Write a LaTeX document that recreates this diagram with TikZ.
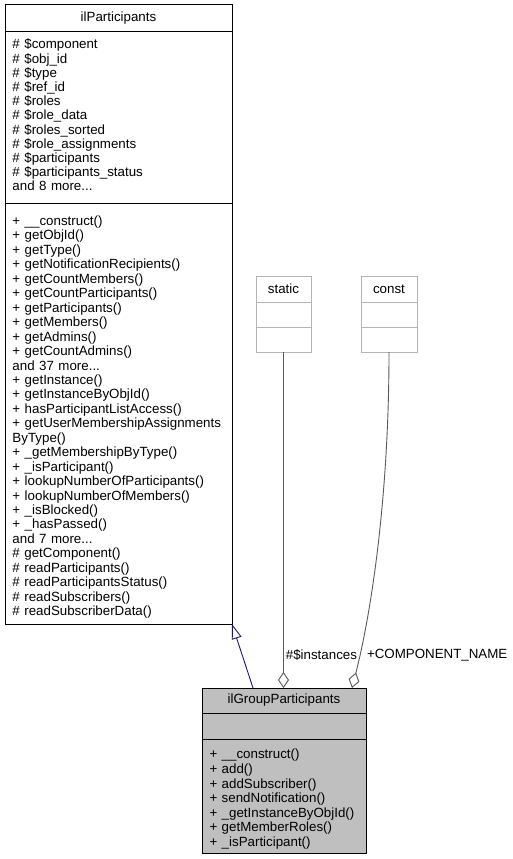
\documentclass[tikz,border=0pt]{standalone}
\usepackage{fontspec}
\setmainfont{Liberation Sans}
\usetikzlibrary{arrows.meta, positioning, calc}
\definecolor{edgegrey}{HTML}{5A5A5A}
\definecolor{inheritblue}{HTML}{191970}
\definecolor{classgrey}{HTML}{BFBFBF}
\definecolor{framegrey}{HTML}{B4B4B4}

\begin{document}
\begin{tikzpicture}[
  x=1pt, y=-1pt,
  every node/.style={font=\fontsize{13.33}{14.2}\selectfont, outer sep=0pt},
  classbox/.style={draw, line width=1pt, inner xsep=7.5pt, inner ysep=0pt, align=left},
  emptybox/.style={draw=framegrey, line width=1pt, minimum width=55pt, inner sep=0pt},
  inherit/.style={-{Triangle[open, length=15pt, width=10pt, fill=white]}, line width=0.9pt, color=inheritblue},
  aggr/.style={-{Diamond[open, length=16pt, width=11pt, fill=white]}, line width=0.9pt, color=edgegrey},
  lbl/.style={inner sep=0pt}
]
  \useasboundingbox (0,0) rectangle (513,859);

  % Base class
  \node[classbox, text width=212pt, align=center, minimum height=27pt] (ilp) at (118.5,18.5) {ilParticipants};
  \node[classbox, text width=212pt, minimum height=171pt, below=0pt of ilp] (ilpattr) {%
    \# \$component\\
    \# \$obj\_id\\
    \# \$type\\
    \# \$ref\_id\\
    \# \$roles\\
    \# \$role\_data\\
    \# \$roles\_sorted\\
    \# \$role\_assignments\\
    \# \$participants\\
    \# \$participants\_status\\
    and 8 more...\rule[-5pt]{0pt}{0pt}};
  \node[classbox, text width=212pt, minimum height=421pt, below=0pt of ilpattr,
        font=\fontsize{13.33}{14.45}\selectfont] (ilpmeth) {%
    \rule{0pt}{17pt}+ \_\_construct()\\
    + getObjId()\\
    + getType()\\
    + getNotificationRecipients()\\
    + getCountMembers()\\
    + getCountParticipants()\\
    + getParticipants()\\
    + getMembers()\\
    + getAdmins()\\
    + getCountAdmins()\\
    and 37 more...\\
    + getInstance()\\
    + getInstanceByObjId()\\
    + hasParticipantListAccess()\\
    + getUserMembershipAssignments\\
    ByType()\\
    + \_getMembershipByType()\\
    + \_isParticipant()\\
    + lookupNumberOfParticipants()\\
    + lookupNumberOfMembers()\\
    + \_isBlocked()\\
    + \_hasPassed()\\
    and 7 more...\\
    \# getComponent()\\
    \# readParticipants()\\
    \# readParticipantsStatus()\\
    \# readSubscribers()\\
    \# readSubscriberData()};

  % Type boxes
  \node[emptybox, minimum height=26pt] (stt) at (283.5,289) {static};
  \node[emptybox, minimum height=25pt, below=0pt of stt] (sttattr) {};
  \node[emptybox, minimum height=25pt, below=0pt of sttattr] (sttmeth) {};
  \node[emptybox, minimum width=56pt, minimum height=26pt] (cst) at (389,289) {const};
  \node[emptybox, minimum width=56pt, minimum height=25pt, below=0pt of cst] (cstattr) {};
  \node[emptybox, minimum width=56pt, minimum height=25pt, below=0pt of cstattr] (cstmeth) {};

  % Derived class
  \node[classbox, fill=classgrey, text width=149pt, align=center, minimum height=25pt] (igp) at (284,700.5) {ilGroupParticipants};
  \node[classbox, fill=classgrey, text width=149pt, minimum height=26pt, below=0pt of igp] (igpattr) {};
  \node[classbox, fill=classgrey, text width=149pt, minimum height=114pt, below=0pt of igpattr,
        font=\fontsize{13.33}{14.6}\selectfont] (igpmeth) {%
    \rule{0pt}{16pt}+ \_\_construct()\\
    + add()\\
    + addSubscriber()\\
    + sendNotification()\\
    + \_getInstanceByObjId()\\
    + getMemberRoles()\\
    + \_isParticipant()};

  % Edges
  \draw[inherit] ([xshift=-31pt]igp.north) -- (ilpmeth.south east);
  \draw[aggr] (sttmeth.south) -- (sttmeth.south |- igp.north);
  \draw[aggr] (cstmeth.south) .. controls +(0,150) and +(18,-70) .. ([xshift=68pt]igp.north);

  % Edge labels
  \node[lbl, anchor=east] (instlbl) at (357,655) {\#\$instances};
  \node[lbl, anchor=west] (complbl) at (367,655) {+COMPONENT\_NAME};
\end{tikzpicture}
\end{document}
